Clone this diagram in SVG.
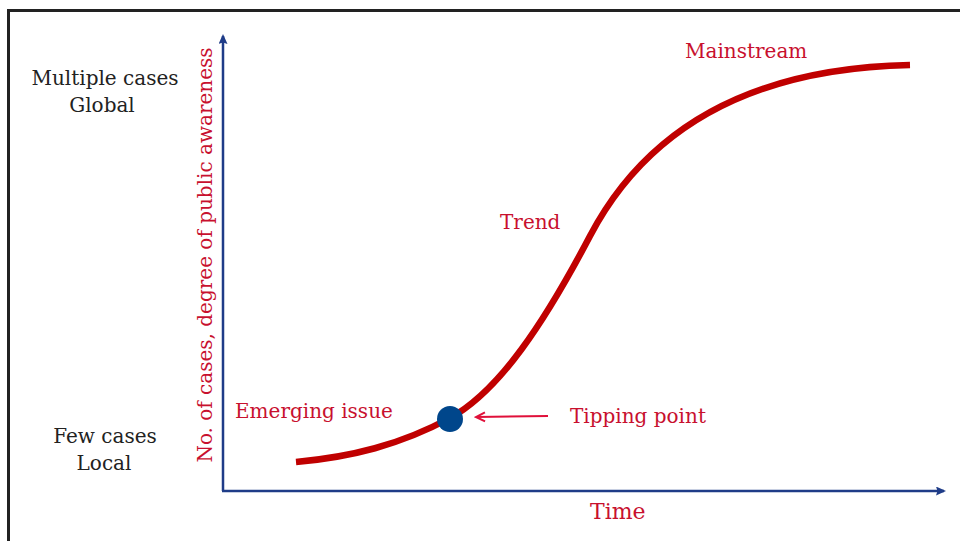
<svg xmlns="http://www.w3.org/2000/svg" width="960" height="541" viewBox="0 0 960 541">
<style>
.lbl{font-family:"DejaVu Serif","Liberation Serif",serif;font-size:20px;fill:#c8102e}
.blk{font-family:"DejaVu Serif","Liberation Serif",serif;font-size:20px;fill:#222;text-anchor:middle}
</style>
<defs>
<marker id="ax" viewBox="0 0 10 10" refX="8" refY="5" markerWidth="10" markerHeight="9" orient="auto" markerUnits="userSpaceOnUse" preserveAspectRatio="none">
<path d="M0,0 L10,5 L0,10 L1.5,5 Z" fill="#1f3c88"/>
</marker>
<marker id="open" viewBox="0 0 12 12" refX="10.5" refY="6" markerWidth="12" markerHeight="12" orient="auto" markerUnits="userSpaceOnUse">
<path d="M1.5,1.5 L10.5,6 L1.5,10.5" fill="none" stroke="#e0103a" stroke-width="2"/>
</marker>
</defs>
<rect x="0" y="0" width="960" height="541" fill="#fff"/>
<path d="M8.5,560 V10.5 H980" fill="none" stroke="#222" stroke-width="3"/>
<g id="axes">
<line x1="223" y1="491" x2="223" y2="36" stroke="#1f3c88" stroke-width="2.5" marker-end="url(#ax)"/>
<line x1="222" y1="491" x2="944" y2="491" stroke="#1f3c88" stroke-width="2.5" marker-end="url(#ax)"/>
</g>
<g id="curve">
<path d="M296,462 C351,457 400,445 450,418 C500,390.5 545,321.5 590,236 C650,122 760,68 910,65" fill="none" stroke="#c00000" stroke-width="6.5"/>
</g>
<g id="connectors">
<line x1="548" y1="416" x2="476" y2="417" stroke="#e0103a" stroke-width="2" marker-end="url(#open)"/>
</g>
<g id="tipping-dot">
<circle cx="450" cy="419" r="13" fill="#00468b"/>
</g>
<g id="labels-left">
<text class="blk" x="105" y="85">Multiple cases</text>
<text class="blk" x="102" y="112">Global</text>
<text class="blk" x="105" y="443">Few cases</text>
<text class="blk" x="104" y="470">Local</text>
</g>
<g id="y-label">
<text class="lbl" transform="translate(212,255) rotate(-90)" text-anchor="middle">No. of cases, degree of public awareness</text>
</g>
<g id="emerging"><text class="lbl" x="235" y="418">Emerging issue</text></g>
<g id="trend"><text class="lbl" x="500" y="229">Trend</text></g>
<g id="mainstream"><text class="lbl" x="685" y="58">Mainstream</text></g>
<g id="tipping"><text class="lbl" x="570" y="423">Tipping point</text></g>
<g id="time"><text class="lbl" x="590" y="519" style="font-size:22px">Time</text></g>
</svg>
